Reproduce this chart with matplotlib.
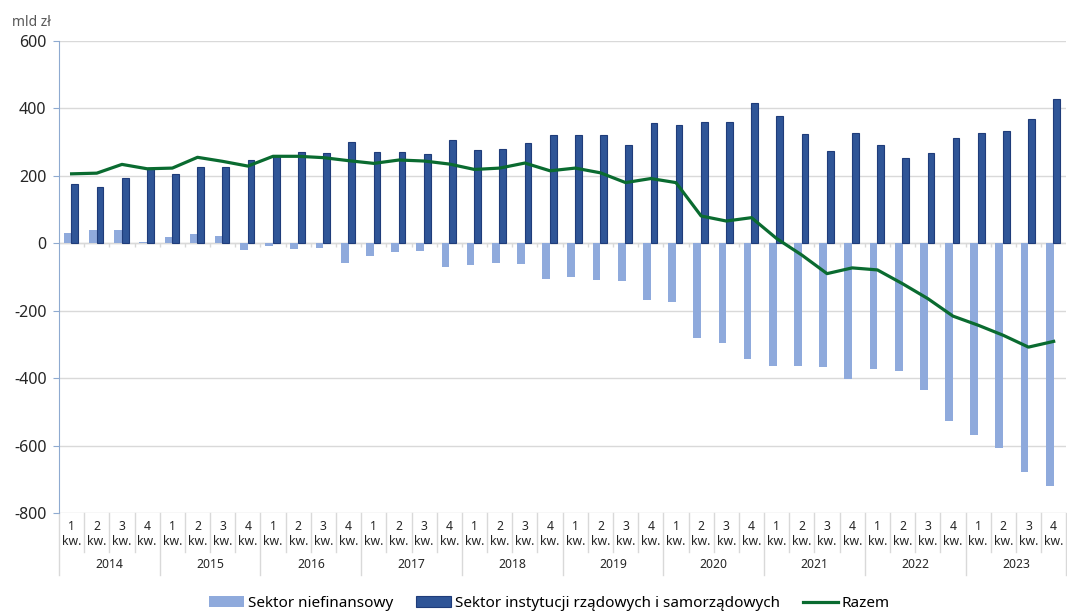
import numpy as np
import matplotlib.pyplot as plt
from matplotlib.transforms import blended_transform_factory

plt.rcParams["font.family"] = ["Noto Sans", "DejaVu Sans"]
plt.rcParams["axes.unicode_minus"] = False

years = ['2014', '2015', '2016', '2017', '2018', '2019', '2020', '2021', '2022', '2023']
quarters = ['1', '2', '3', '4']

# Sektor niefinansowy
niefin = [31, 39, 39, 3, 19, 28, 22, -20,
          -8, -16, -14, -58, -38, -26, -23, -70,
          -63, -58, -60, -105, -100, -108, -113, -168,
          -173, -280, -295, -342, -363, -363, -367, -403,
          -373, -378, -434, -528, -570, -608, -677, -721]
# Sektor instytucji rządowych i samorządowych
rzad = [175, 168, 193, 222, 205, 225, 225, 248,
        258, 272, 268, 299, 270, 270, 265, 305,
        277, 280, 298, 320, 322, 320, 292, 357,
        352, 359, 359, 416, 377, 324, 274, 328,
        292, 254, 269, 312, 326, 334, 369, 428]
# Razem
razem = [206, 208, 234, 221, 223, 255, 243, 229,
         258, 258, 254, 245, 237, 247, 244, 235,
         219, 223, 238, 215, 223, 209, 180, 192,
         180, 81, 66, 76, 14, -35, -90, -73,
         -79, -120, -164, -216, -243, -273, -308, -291]

c_light = '#8faadc'
c_dark = '#2f5597'
c_green = '#0a6b30'
c_grid = '#d9d9d9'

fig = plt.figure(figsize=(10.67, 6.12), dpi=100)
ax = fig.add_axes([0.0553, 0.1618, 0.944, 0.7712])

x = np.arange(len(rzad))
w = 0.31
b1 = ax.bar(x - w / 2, niefin, width=w, color=c_light, label='Sektor niefinansowy', zorder=2)
b2 = ax.bar(x + w / 2 - 0.03, rzad, width=w - 0.04, color=c_dark, edgecolor='#1f3c7a', linewidth=0.8,
            label='Sektor instytucji rządowych i samorządowych', zorder=2)
l1, = ax.plot(x, razem, color=c_green, linewidth=2.3, label='Razem', zorder=3)

ax.set_xlim(-0.5, len(x) - 0.5)
ax.set_ylim(-800, 600)
ax.set_yticks(np.arange(-800, 601, 200))
ax.yaxis.grid(True, color=c_grid, linewidth=1, zorder=0)
ax.set_axisbelow(True)
for s in ['top', 'right', 'bottom']:
    ax.spines[s].set_visible(False)
ax.spines['left'].set_color('#8eaad0')
ax.tick_params(axis='y', length=4, color='#8eaad0', labelsize=11.5, labelcolor='#262626', pad=5)
ax.set_xticks([])

# zero line ticks between categories
ax.axhline(0, color=c_grid, linewidth=1, zorder=1)
ax.vlines(np.arange(0.5, len(x) - 0.5, 1), 0, -12, color=c_grid, linewidth=1, zorder=1)

# category axis (quarters / years)
tr = blended_transform_factory(ax.transData, ax.transAxes)
for i in range(len(x)):
    ax.text(i, -0.045, quarters[i % 4] + '\nkw.', transform=tr, ha='center', va='center',
            fontsize=8.8, color='#262626', linespacing=1.25)
for k, yr in enumerate(years):
    ax.text(4 * k + 1.5, -0.11, yr, transform=tr, ha='center', va='center',
            fontsize=8.8, color='#262626')
for b in np.arange(-0.5, len(x), 1):
    bottom = -0.131 if (b + 0.5) % 4 == 0 else -0.083
    ax.plot([b, b], [0, bottom], transform=tr, color=c_grid, linewidth=1, clip_on=False)

fig.text(0.011, 0.963, 'mld zł', fontsize=10, color='#595959', ha='left', va='center')

fig.legend(handles=[b1, b2, l1], loc='center', bbox_to_anchor=(0.515, 0.014), ncol=3, frameon=False,
           fontsize=11, handlelength=2.3, handletextpad=0.25, columnspacing=1.5,
           handleheight=0.7, borderpad=0.05)

fig.savefig('out.png', dpi=100)
